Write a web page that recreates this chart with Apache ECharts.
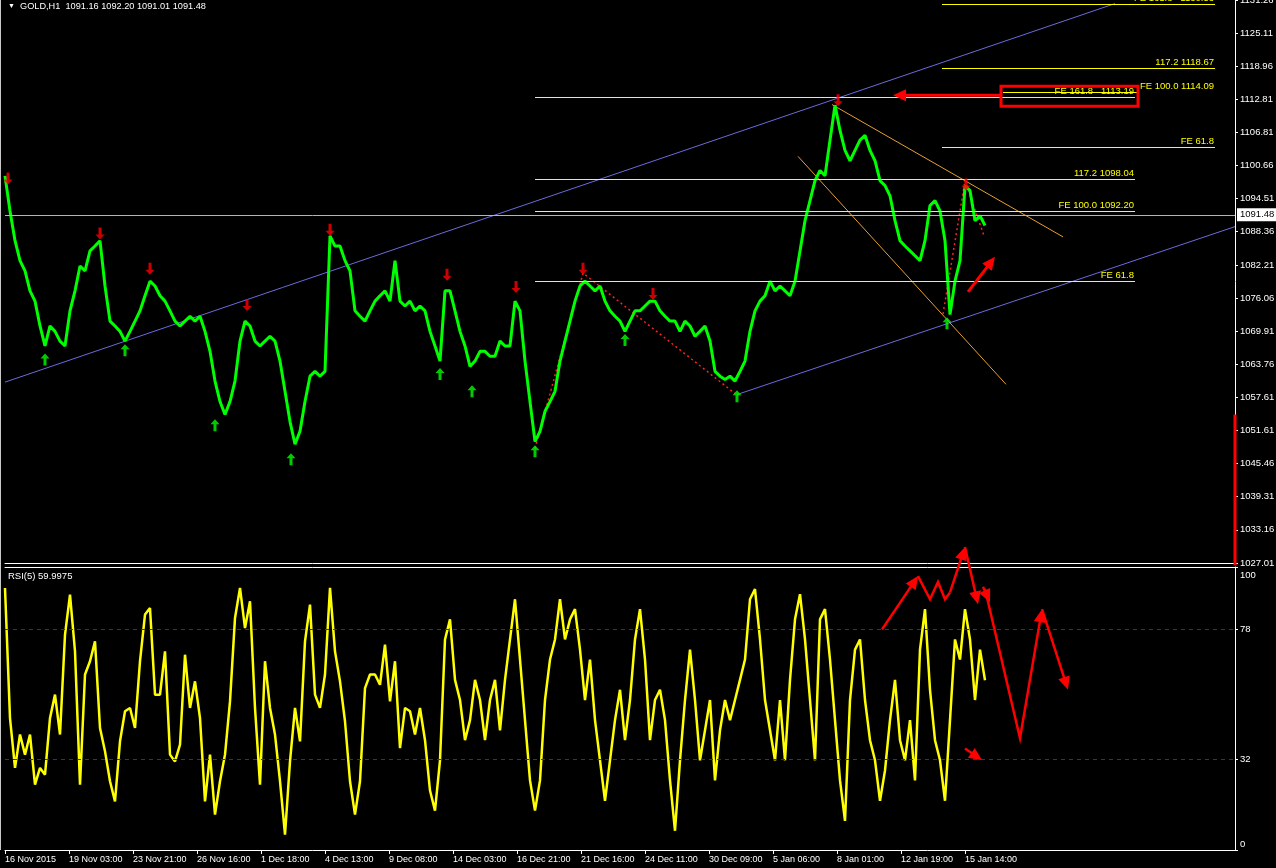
<!DOCTYPE html>
<html><head><meta charset="utf-8">
<script src="https://cdn.jsdelivr.net/npm/echarts@6/dist/echarts.min.js"></script>
<style>html,body{margin:0;padding:0;background:#000;}#c{width:1276px;height:868px;}</style>
</head><body><div id="c"></div>
<script>
// ---------- data ----------
const STEP = 5; // bars between samples
const dateLabels = ['16 Nov 2015','19 Nov 03:00','23 Nov 21:00','26 Nov 16:00','1 Dec 18:00','4 Dec 13:00','9 Dec 08:00','14 Dec 03:00','16 Dec 21:00','21 Dec 16:00','24 Dec 11:00','30 Dec 09:00','5 Jan 06:00','8 Jan 01:00','12 Jan 19:00','15 Jan 14:00'];
const dateTickBars = [0,64,128,192,256,320,384,448,512,576,640,704,768,832,896,960];
const priceTicks = [1027.01,1033.16,1039.31,1045.46,1051.61,1057.61,1063.76,1069.91,1076.06,1082.21,1088.36,1094.51,1100.66,1106.81,1112.81,1118.96,1125.11,1131.26];
const rsiTicks = [0,32,78,100];
const rsiLevels = [32,78];
const lastPrice = 1091.48;

const closePrices = [
1098.7,1092.2,1086.7,1083.0,1081.1,1077.4,1075.5,1070.9,1067.2,1070.9,
1069.9,1068.1,1067.2,1073.7,1077.4,1082.0,1081.1,1084.8,1085.7,1086.7,
1078.3,1071.8,1070.9,1069.9,1068.1,1069.9,1071.8,1073.7,1076.5,1079.2,
1078.3,1076.5,1075.5,1073.7,1071.8,1070.9,1071.8,1072.7,1071.8,1072.7,
1069.9,1066.2,1060.7,1056.9,1054.5,1056.9,1060.7,1068.1,1071.8,1070.9,
1068.1,1067.2,1068.1,1069.0,1068.1,1064.4,1058.8,1053.2,1049.0,1051.4,
1056.9,1061.6,1062.5,1061.6,1062.5,1087.6,1085.7,1085.7,1083.0,1081.1,
1073.7,1072.7,1071.8,1073.7,1075.5,1076.5,1077.4,1075.5,1083.0,1075.5,
1074.6,1075.5,1073.7,1074.6,1073.7,1069.9,1067.2,1064.4,1077.4,1077.4,
1073.7,1069.9,1067.2,1063.4,1064.4,1066.2,1066.2,1065.3,1065.3,1068.1,
1067.2,1067.2,1075.5,1073.7,1064.4,1056.9,1049.5,1051.4,1055.1,1056.9,
1058.8,1064.4,1068.1,1071.8,1075.5,1078.3,1079.2,1078.3,1077.4,1078.3,
1075.5,1073.7,1072.7,1071.8,1069.9,1071.8,1073.7,1073.7,1074.6,1075.5,
1075.5,1073.7,1072.7,1071.8,1071.8,1069.9,1071.8,1070.9,1069.0,1069.9,
1070.9,1068.1,1062.5,1061.6,1061.0,1061.6,1060.7,1062.5,1064.4,1069.9,
1073.7,1075.5,1076.5,1079.2,1077.4,1078.3,1077.4,1076.5,1079.2,1084.8,
1090.4,1094.1,1097.8,1099.7,1098.7,1105.3,1111.8,1107.1,1103.4,1101.5,
1103.4,1105.3,1106.2,1103.4,1101.5,1097.8,1096.9,1095.0,1090.4,1086.7,
1085.7,1084.8,1083.9,1083.0,1086.7,1093.2,1094.1,1092.2,1086.7,1073.0,
1079.2,1083.0,1096.8,1096.0,1090.4,1091.3,1089.5
];
const rsiValues = [
92.6,46.6,29.0,40.8,33.7,40.8,23.1,29.0,26.6,46.6,
54.9,40.8,76.1,90.2,70.2,23.1,62.0,66.7,73.7,43.1,
34.9,24.3,17.2,38.4,49.0,50.2,43.1,66.7,83.2,85.5,
54.9,54.9,70.2,33.7,31.3,37.2,69.0,50.2,59.6,46.6,
17.2,33.7,12.5,24.3,33.7,52.5,82.0,92.6,78.4,87.9,
50.2,23.1,66.7,50.2,40.8,24.3,5.4,31.3,50.2,38.4,
73.7,86.7,54.9,50.2,62.0,92.6,70.2,59.6,45.5,24.3,
12.5,24.3,57.2,62.0,62.0,58.4,72.6,52.5,66.7,36.0,
50.2,49.0,40.8,50.2,38.8,21.0,13.9,31.7,74.4,81.5,
60.1,53.0,38.8,45.9,60.1,53.0,38.8,53.0,60.1,42.3,
60.1,74.4,88.6,67.3,45.9,24.6,13.9,24.6,53.0,67.3,
74.4,88.6,74.4,81.5,85.1,70.8,53.0,67.3,45.9,31.7,
17.4,31.7,45.9,56.6,38.8,53.0,74.4,85.1,67.3,38.8,
53.0,56.6,45.9,24.6,6.8,31.7,53.0,70.8,53.0,31.7,
42.3,53.0,24.6,42.3,53.0,45.9,53.0,60.1,67.3,88.6,
92.2,74.4,53.0,42.3,31.7,53.0,31.7,60.1,81.5,90.4,
74.4,53.0,31.7,81.5,85.1,67.3,45.9,24.6,10.3,53.0,
70.8,74.4,53.0,38.8,31.7,17.4,28.1,45.9,60.1,38.8,
31.7,45.9,24.6,70.8,85.1,56.6,38.8,31.7,17.4,45.9,
74.4,67.3,85.1,74.4,53.0,70.8,60.0
];

// fractal arrows [bar, price]
const downFractals = [[3,1098.2],[95,1088.0],[145,1081.5],[242,1074.8],[325,1088.7],[442,1080.4],[511,1078.1],[578,1081.5],[648,1076.8],[833,1112.7],[961,1097.1]];
const upFractals = [[40,1064.7],[120,1066.4],[210,1052.5],[286,1046.2],[435,1062.0],[467,1058.8],[530,1047.7],[620,1068.3],[732,1057.9],[942,1071.4]];

// Fibonacci expansion levels
const fibLabels = ['FE 161.8   1130.53','117.2 1118.67','FE 100.0 1114.09','FE 61.8','FE 161.8   1113.19','117.2 1098.04','FE 100.0 1092.20','FE 61.8'];
const fibPrices = [1130.53,1118.67,1114.09,1103.95,1113.19,1098.04,1092.20,1079.23];
const fibStart = [937,937,998,937,530,530,530,530];
const fibEnd = [1210,1210,1133,1210,1130,1130,1130,1130];
const fibLabelEnd = [1210,1210,1210,1210,1130,1130,1130,1130];

// trend lines [bar, price]
const channelUpper = [[0,1060.5],[1110,1130.6]];
const channelLower = [[732,1058.2],[1230,1089.3]];
const orangeUpper = [[827,1111.9],[1058,1087.4]];
const orangeLower = [[793,1102.3],[1001,1060.1]];
const zigzag1 = [[530,1048.2],[578,1080.7],[730,1058.4]];
const zigzag2 = [[938,1073.1],[960,1097.8],[979,1087.6]];

// hand-drawn annotations
const priceArrows = [[[995,1113.6],[888,1113.6]],[[963,1077.2],[990,1083.7]]];
const fibBox = [[996,1115.3],[1133,1111.6]];
const axisBar = [[1230,1054.5],[1230,1026.6]];
const rsiArrows = [
  [[877,77.9],[913,96.8]],
  [[945,91.0],[960,107.1]],
  [[960,107.1],[973,86.8]],
  [[978,93.0],[985,87.5]],
  [[980,92.2],[1015,39.5],[1037,85.1]],
  [[1037,85.1],[1063,56.6]],
  [[960,35.9],[977,31.7]]
];
const rsiZig = [[913,96.8],[925,88.6],[933,94.7],[940,88.6],[945,91.0]];

// ---------- chart ----------
const FONT = 'Liberation Sans';
const chart = echarts.init(document.getElementById('c'));
const priceData = closePrices.map((v,i)=>[i*STEP, v]);
const rsiData = rsiValues.map((v,i)=>[i*STEP, v]);

const fibLineMark = fibLabels.map((t,i)=>[
  {coord:[fibStart[i], fibPrices[i]], label:{show: fibEnd[i]===fibLabelEnd[i], formatter:t}},
  {coord:[fibEnd[i], fibPrices[i]]}
]);
const fibExtraText = fibLabels.map((t,i)=>i).filter(i=>fibEnd[i]!==fibLabelEnd[i]).map(i=>[
  {coord:[fibEnd[i]+5, fibPrices[i]], label:{show:true, formatter:fibLabels[i]}},
  {coord:[fibLabelEnd[i], fibPrices[i]]}
]);

const downArrow = 'path://M3,0 L6,0 L6,7 L9,7 L4.5,12 L0,7 L3,7 Z';
const upArrow = 'path://M4.5,0 L9,5 L6,5 L6,12 L3,12 L3,5 L0,5 Z';

function lineSeries(data, color, type, width){
  return {type:'line', xAxisIndex:0, yAxisIndex:0, data, showSymbol:false, symbol:'none', silent:true,
    lineStyle:{color, width:width||1, type:type||'solid'}, z:3, animation:false};
}
const axisLineStyle = {onZero:false, show:true, lineStyle:{color:'#fff', width:1}};
const fibLabelStyle = {position:'insideEndTop', color:'#ffff00', fontSize:9.5, fontFamily:FONT, distance:1};

chart.setOption({
  backgroundColor:'#000',
  animation:false,
  textStyle:{fontFamily:FONT},
  grid:[
    {left:5, right:41, top:0, height:563, outerBoundsMode:'none', containLabel:false},
    {left:5, right:41, top:567, height:283, outerBoundsMode:'none', containLabel:false}
  ],
  xAxis:[
    {type:'value', gridIndex:0, min:0, max:1230, axisLine:axisLineStyle, axisTick:{show:false}, axisLabel:{show:false}, splitLine:{show:false}},
    {type:'value', gridIndex:1, min:0, max:1230, position:'bottom',
      axisLine:axisLineStyle,
      axisTick:{show:true, customValues:dateTickBars, length:4, lineStyle:{color:'#fff'}},
      axisLabel:{show:true, customValues:dateTickBars, color:'#fff', fontSize:9, fontFamily:FONT, align:'left', margin:5,
        formatter:v=>dateLabels[dateTickBars.indexOf(v)] || ''},
      splitLine:{show:false}},
    {type:'value', gridIndex:1, min:0, max:1230, position:'top', axisLine:axisLineStyle, axisTick:{show:false}, axisLabel:{show:false}, splitLine:{show:false}}
  ],
  yAxis:[
    {type:'value', gridIndex:0, position:'right', min:1027.01, max:1131.26,
      axisLine:axisLineStyle,
      axisTick:{show:true, customValues:priceTicks, length:3, lineStyle:{color:'#fff'}},
      axisLabel:{show:true, customValues:priceTicks, color:'#fff', fontSize:9.5, fontFamily:FONT, margin:5, formatter:v=>v.toFixed(2)},
      splitLine:{show:false}},
    {type:'value', gridIndex:1, position:'right', min:0, max:100,
      axisLine:axisLineStyle,
      axisTick:{show:true, customValues:rsiTicks, length:3, lineStyle:{color:'#fff'}},
      axisLabel:{show:true, customValues:rsiTicks, color:'#fff', fontSize:9.5, fontFamily:FONT, margin:5,
        formatter:v=> v===100 ? '{t|100}' : (v===0 ? '{b|0}' : String(v)),
        rich:{t:{color:'#fff', fontSize:9.5, padding:[16,0,0,0]}, b:{color:'#fff', fontSize:9.5, padding:[0,0,12,0]}}},
      splitLine:{show:false}}
  ],
  series:[
    {name:'price', type:'line', xAxisIndex:0, yAxisIndex:0, data:priceData, showSymbol:false, symbol:'none',
      lineStyle:{color:'#00ff00', width:3}, z:4, silent:true,
      markLine:{silent:true, symbol:['none','none'], animation:false, z:5,
        lineStyle:{color:'#b4b4b4', width:1, type:'solid'},
        label:{show:true, position:'end', formatter:lastPrice.toFixed(2), color:'#000', backgroundColor:'#fff', padding:[2,3,1,3], fontSize:9.5, fontFamily:FONT, distance:2},
        data:[{yAxis:lastPrice}]}
    },
    {name:'rsi', type:'line', xAxisIndex:1, yAxisIndex:1, data:rsiData, showSymbol:false, symbol:'none',
      lineStyle:{color:'#ffff00', width:2.5}, z:4, silent:true,
      markLine:{silent:true, symbol:['none','none'], animation:false, label:{show:false},
        lineStyle:{color:'#5a10c0', type:[4,4], width:1},
        data: rsiLevels.map(v=>({yAxis:v}))}
    },
    {name:'fibLines', type:'line', xAxisIndex:0, yAxisIndex:0, data:[], silent:true, z:6,
      markLine:{silent:true, symbol:['none','none'], animation:false, z:6,
        lineStyle:{color:'#ffff00', width:1, type:'solid'},
        label:fibLabelStyle,
        data: fibLineMark}},
    {name:'fibText', type:'line', xAxisIndex:0, yAxisIndex:0, data:[], silent:true, z:6,
      markLine:{silent:true, symbol:['none','none'], animation:false, z:6,
        lineStyle:{color:'rgba(0,0,0,0)', width:1, type:'solid'},
        label:fibLabelStyle,
        data: fibExtraText}},
    lineSeries(channelUpper, '#6b6bdc', 'solid', 1),
    lineSeries(channelLower, '#6b6bdc', 'solid', 1),
    lineSeries(orangeUpper, '#e8a030', 'solid', 1),
    lineSeries(orangeLower, '#e8a030', 'solid', 1),
    lineSeries(zigzag1, '#ff2020', [2,3], 1.5),
    lineSeries(zigzag2, '#ff2020', [2,3], 1.5),
    {type:'scatter', xAxisIndex:0, yAxisIndex:0, data:downFractals, symbol:downArrow, symbolSize:[9,12], itemStyle:{color:'#ff0000'}, z:7, silent:true},
    {type:'scatter', xAxisIndex:0, yAxisIndex:0, data:upFractals, symbol:upArrow, symbolSize:[9,12], itemStyle:{color:'#00ff00'}, z:7, silent:true}
  ]
});

// ---------- annotations (positioned through the chart's own scales) ----------
const g = [
  {type:'rect', left:0, top:0, shape:{x:0, y:0, width:1, height:850}, style:{fill:'#c8c8c8'}, z:50, silent:true},
  {type:'text', left:8, top:3, style:{text:'▼', fill:'#fff', font:'7px '+FONT}, z:50},
  {type:'text', left:20, top:2, style:{text:'GOLD,H1  1091.16 1092.20 1091.01 1091.48', fill:'#fff', font:'9.2px '+FONT}, z:50},
  {type:'text', left:8, top:571, style:{text:'RSI(5) 59.9975', fill:'#fff', font:'9.5px '+FONT}, z:50}
];
function toPx(s, p){ return chart.convertToPixel({seriesIndex:s}, p); }
function drawPath(s, pts, head, w){
  const P = pts.map(p=>toPx(s,p));
  const hl = 13, hw = 6;
  let line = P.slice();
  if(head){
    const a = P[P.length-2], b = P[P.length-1];
    const dx=b[0]-a[0], dy=b[1]-a[1], L=Math.hypot(dx,dy), ux=dx/L, uy=dy/L;
    line[line.length-1] = [b[0]-ux*hl*0.7, b[1]-uy*hl*0.7];
    g.push({type:'polygon', z:60, silent:true, shape:{points:[
      [b[0], b[1]],
      [b[0]-ux*hl-uy*hw, b[1]-uy*hl+ux*hw],
      [b[0]-ux*hl+uy*hw, b[1]-uy*hl-ux*hw]]}, style:{fill:'#ff0000'}});
  }
  g.push({type:'polyline', z:60, silent:true, shape:{points:line}, style:{stroke:'#ff0000', lineWidth:w||3, fill:null}});
}
priceArrows.forEach(a=>drawPath(0, a, true, 3));
rsiArrows.forEach(a=>drawPath(1, a, true, 2.5));
drawPath(1, rsiZig, false, 2.5);
drawPath(0, axisBar, false, 3);
const b0 = toPx(0, fibBox[0]), b1 = toPx(0, fibBox[1]);
g.push({type:'rect', z:60, silent:true, shape:{x:b0[0], y:b0[1], width:b1[0]-b0[0], height:b1[1]-b0[1]}, style:{stroke:'#ff0000', lineWidth:3, fill:null}});
chart.setOption({graphic:g});
</script>
</body></html>
